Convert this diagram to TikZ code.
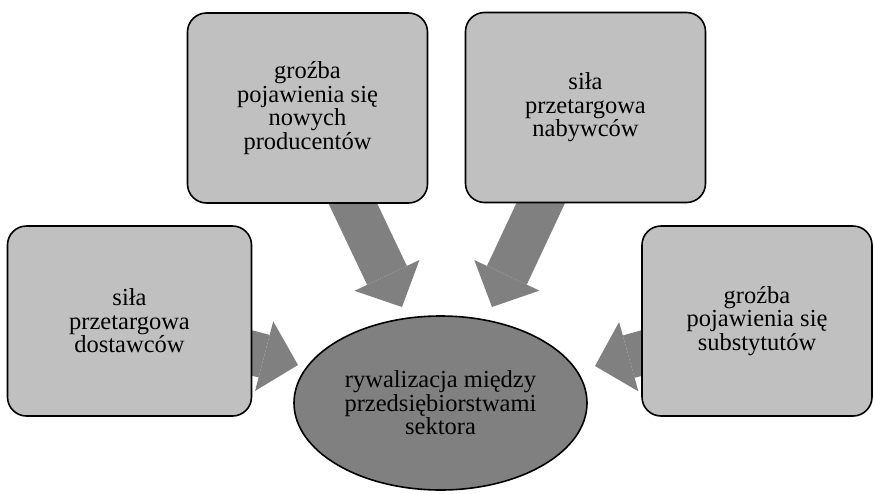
\documentclass[tikz,border=0pt]{standalone}
\usepackage{fontspec}
\setmainfont{Liberation Serif}
\usetikzlibrary{positioning,arrows.meta,shapes,backgrounds}
\definecolor{boxgray}{HTML}{C0C0C0}
\definecolor{arrowgray}{HTML}{808080}

\begin{document}
\begin{tikzpicture}[x=1pt,y=-1pt,
  force/.style={draw,line width=1.6pt,fill=boxgray,rounded corners=19pt,
    minimum width=240pt,minimum height=190pt,align=center,
    font=\fontsize{24.5}{23.5}\selectfont},
  push/.style={draw=arrowgray,line width=44pt,
    -{Triangle[length=35pt,width=72pt,line width=0pt]}}]

\useasboundingbox (0,0) rectangle (875,493);

\node[force] (np) at (307.5,108) {groźba\\pojawienia się\\nowych\\producentów};
\node[force] (nb) at (585.5,107.5) {siła\\przetargowa\\nabywców};
\node[force,minimum width=244pt] (ds) at (129.5,321) {siła\\przetargowa\\dostawców};
\node[force,minimum width=230pt] (sb) at (757,321) {groźba\\pojawienia się\\substytutów};
\node[draw,ellipse,line width=1.6pt,fill=arrowgray,inner sep=0pt,
  minimum width=293pt,minimum height=174pt,align=center,
  font=\fontsize{24.5}{23.5}\selectfont] (rv) at (440.5,403)
  {rywalizacja między\\przedsiębiorstwami\\sektora};

% tips of the arrows, just outside the ellipse
\coordinate (t1) at (402,307);
\coordinate (t2) at (492,307);
\coordinate (t3) at (298,365);
\coordinate (t4) at (595,366);

\begin{scope}[on background layer]
\draw[push] (np.center) -- (t1);
\draw[push] (nb.center) -- (t2);
\draw[push] (ds.center) -- (t3);
\draw[push] (sb.center) -- (t4);
\end{scope}

\end{tikzpicture}
\end{document}
